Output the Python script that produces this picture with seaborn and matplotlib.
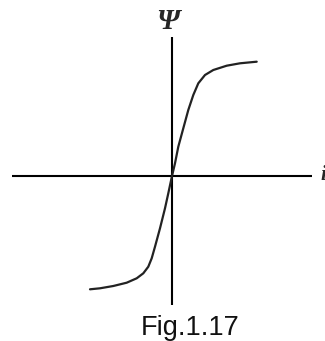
import matplotlib
matplotlib.use("Agg")
import matplotlib.pyplot as plt
import pandas as pd
import seaborn as sns

# Magnetisation curve: flux linkage psi against current i (same units as the axes)
current = [-82, -72, -58.7, -45.3, -35.3, -28.7, -23.7, -20.3, -17, -12, -7, -3.7,
           0, 3, 6.3, 11.3, 16.3, 21.3, 26.3, 33, 41.3, 54.7, 68, 84.7]
flux = [-113.3, -112.3, -110, -106.7, -102.3, -97.3, -90.7, -82.3, -70.7, -52.3, -32.3, -17.3,
        0, 12.7, 29.3, 47.7, 66, 81, 92.7, 101, 106, 110.3, 112.7, 114.3]

y_label = "Ψ"
x_label = "i"
caption = "Fig.1.17"

df = pd.DataFrame({"i": current, "psi": flux})

sns.set_theme(style="white")
fig = plt.figure(figsize=(3.25, 3.41), dpi=100)
ax = fig.add_axes([0, 0, 1, 1])
ax.set_xlim(-172, 153)
ax.set_ylim(-165, 176)
ax.axis("off")

# coordinate axes
ax.plot([-160, 140], [0, 0], color="black", lw=1.5, solid_capstyle="butt")
ax.plot([0, 0], [-129, 139], color="black", lw=1.5, solid_capstyle="butt")

sns.lineplot(data=df, x="i", y="psi", ax=ax, color="#222222", lw=1.6,
             sort=False, estimator=None)

ax.text(-4, 147, y_label, ha="center", va="baseline", fontsize=21,
        family="Liberation Serif", fontweight="bold", fontstyle="italic")
ax.text(148, -4, x_label, ha="left", va="baseline", fontsize=15,
        family="Liberation Serif", fontweight="bold", fontstyle="italic")
ax.text(-31, -159, caption, ha="left", va="baseline", fontsize=19.5,
        family="Liberation Sans", color="#111111")

fig.savefig("out.png", dpi=100)
